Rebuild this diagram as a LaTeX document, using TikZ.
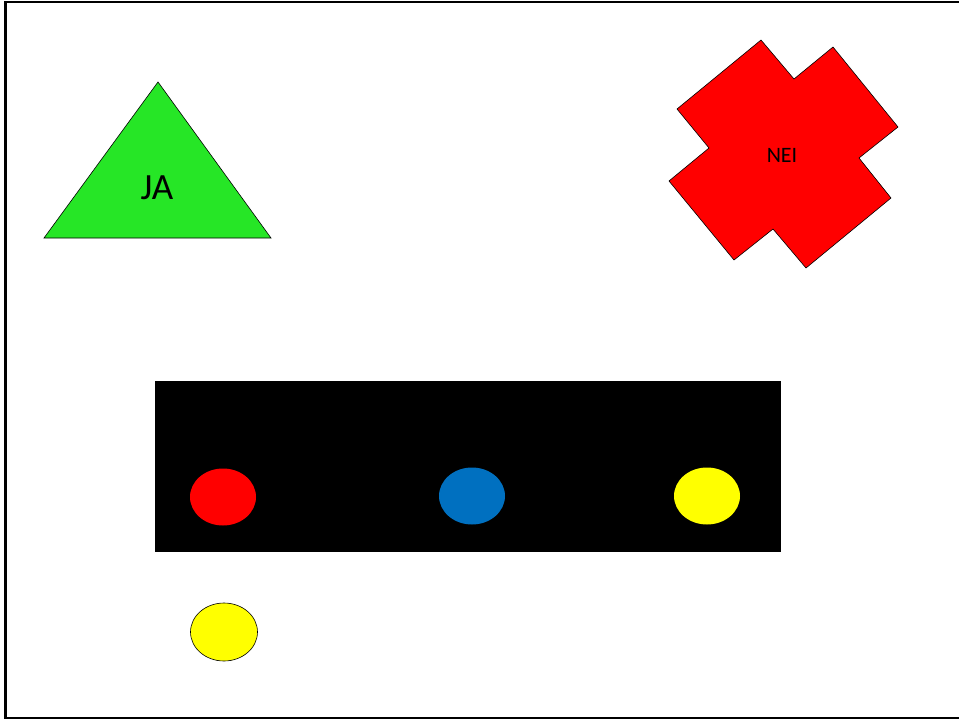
\documentclass[tikz,border=0pt]{standalone}
\usepackage{fontspec}
\setmainfont{Carlito}
\usetikzlibrary{shapes.geometric}
\definecolor{tgreen}{RGB}{38,230,38}
\definecolor{tred}{RGB}{255,0,0}
\definecolor{tblue}{RGB}{0,112,192}
\definecolor{tyellow}{RGB}{255,255,0}
\tikzset{
  dot/.style={ellipse, inner sep=0pt, minimum width=66pt, minimum height=57pt},
  outline/.style={draw=black, line width=0.6pt}
}
\begin{document}
\begin{tikzpicture}[x=1pt,y=-1pt]
\useasboundingbox (0,0) rectangle (959,720);
% frame
\draw[line width=2.2pt] (960,2) -- (5.5,2) -- (5.5,718) -- (960,718);
% triangle
\filldraw[fill=tgreen, outline] (158,82) -- (271,238) -- (44,238) -- cycle;
\node[font=\fontsize{37}{40}\selectfont, inner sep=0pt] (ja) at (157,188) {JA};
% cross
\filldraw[fill=tred, outline] (761,40) -- (794,79) -- (833,47) -- (898,127) -- (859,158) -- (891,198) -- (806,268) -- (773,229) -- (734,260) -- (669,181) -- (709,148) -- (677,109) -- cycle;
\node[font=\fontsize{22}{24}\selectfont, inner sep=0pt] (nei) at (782,155) {NEI};
% black band
\fill[black] (155,381) rectangle (781,552);
\node[dot, fill=tred] (r) at (223,497) {};
\node[dot, fill=tblue] (b) at (472,496) {};
\node[dot, fill=tyellow] (y1) at (707,496) {};
\node[dot, fill=tyellow, outline, minimum width=67pt, minimum height=58pt] (y2) at (224,632) {};
\end{tikzpicture}
\end{document}
